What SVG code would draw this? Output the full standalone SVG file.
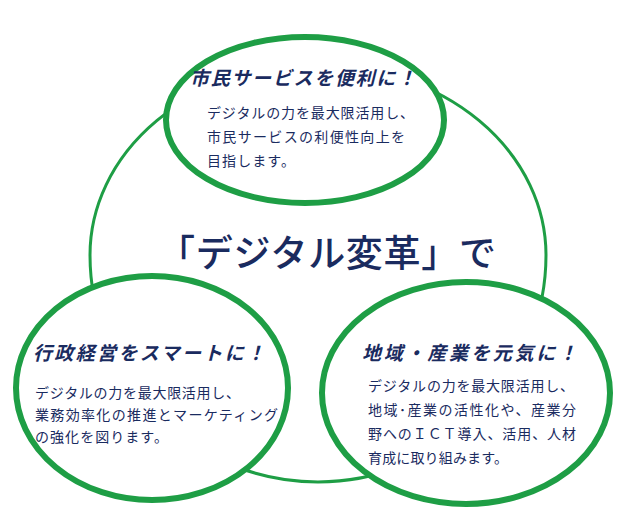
<svg xmlns="http://www.w3.org/2000/svg" width="623" height="517" viewBox="0 0 623 517">
<style>
.c{fill:#fff;stroke:#1e9e45;stroke-width:6}
.big{fill:none;stroke:#1e9e45;stroke-width:3}
text{font-family:"Noto Sans CJK JP",sans-serif;fill:#1a2b5f}
.t{font-size:19px;font-weight:bold;font-style:italic}
.b{font-size:14px}
.m{font-size:37px;font-weight:500}
</style>
<rect width="623" height="517" fill="#fff"/>
<g id="connectors"><path class="big" d="M90,255 A228,190 0 0 1 546,255 A228,227 0 0 1 90,255 Z"/></g>
<text class="m" x="158" y="267" textLength="338">「デジタル変革」で</text>
<g id="top"><ellipse class="c" cx="305" cy="120" rx="139" ry="83"/>
<text class="t" x="190" y="85" textLength="226">市民サービスを便利に！</text>
<text class="b" x="207" y="118" textLength="207">デジタルの力を最大限活用し、</text>
<text class="b" x="207" y="142" textLength="198">市民サービスの利便性向上を</text>
<text class="b" x="207" y="166" textLength="88">目指します。</text></g>
<g id="left"><ellipse class="c" cx="152" cy="388" rx="136" ry="112"/>
<text class="t" x="33" y="360" textLength="232">行政経営をスマートに！</text>
<text class="b" x="35" y="398" textLength="205">デジタルの力を最大限活用し、</text>
<text class="b" x="35" y="420" textLength="243">業務効率化の推進とマーケティング</text>
<text class="b" x="35" y="442" textLength="133">の強化を図ります。</text></g>
<g id="right"><ellipse class="c" cx="466" cy="393" rx="144" ry="111"/>
<text class="t" x="362" y="360" textLength="215">地域・産業を元気に！</text>
<text class="b" x="368" y="391" textLength="206">デジタルの力を最大限活用し、</text>
<text class="b" x="368" y="415" textLength="208">地域･産業の活性化や、産業分</text>
<text class="b" x="368" y="439" textLength="208">野へのＩＣＴ導入、活用、人材</text>
<text class="b" x="368" y="463" textLength="140">育成に取り組みます。</text></g>
</svg>
